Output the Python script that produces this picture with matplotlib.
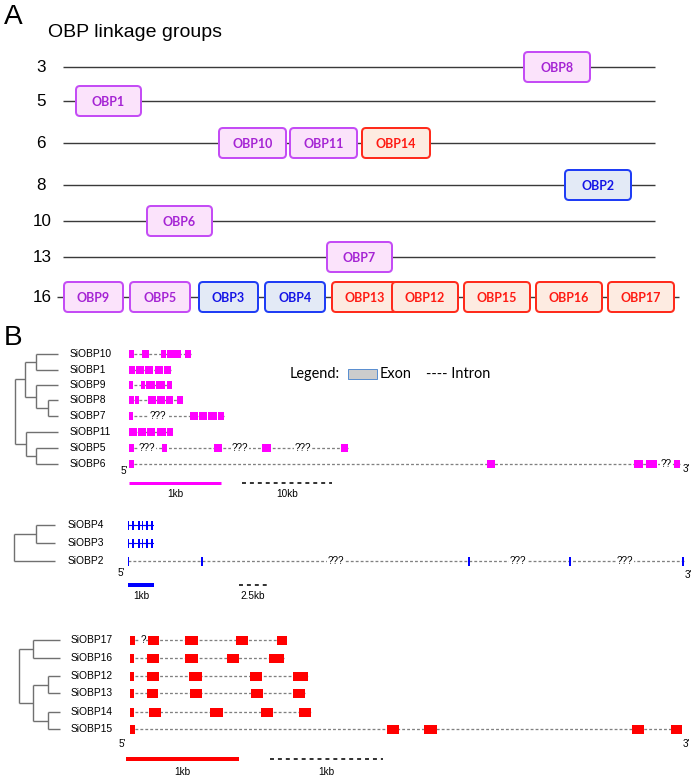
import matplotlib
matplotlib.use('Agg')
import matplotlib.pyplot as plt
from matplotlib.patches import FancyBboxPatch, Rectangle

# ---------------- DATA ----------------
# Panel A: linkage groups
lg_labels = ['3', '5', '6', '8', '10', '13', '16']
lg_rows_y = [67, 101, 143, 185, 221, 257, 297]
lg_line_start = [63, 63, 63, 63, 63, 63, 57]
lg_line_end = [655, 655, 655, 655, 655, 655, 679]

obp_names = ['OBP8', 'OBP1', 'OBP10', 'OBP11', 'OBP14', 'OBP2', 'OBP6', 'OBP7',
             'OBP9', 'OBP5', 'OBP3', 'OBP4', 'OBP13', 'OBP12', 'OBP15', 'OBP16', 'OBP17']
obp_lg = ['3', '5', '6', '6', '6', '8', '10', '13',
          '16', '16', '16', '16', '16', '16', '16', '16', '16']
obp_start = [524, 76, 219, 290, 362, 565, 147, 327, 64, 130, 199, 265, 332, 392, 464, 536, 608]
obp_end = [590, 141, 286, 357, 430, 631, 212, 392, 123, 190, 258, 325, 397, 458, 530, 602, 674]
obp_class = ['P', 'P', 'P', 'P', 'R', 'B', 'P', 'P', 'P', 'P', 'B', 'B', 'R', 'R', 'R', 'R', 'R']

# Panel B: gene structures (exon start/end positions along the drawn gene axis)
mag_genes = ['SiOBP10', 'SiOBP1', 'SiOBP9', 'SiOBP8', 'SiOBP7', 'SiOBP11', 'SiOBP5', 'SiOBP6']
mag_rows = [354, 370, 385, 400, 416, 432, 448, 464]
mag_exons = [
    [(129, 134), (142, 149), (161, 166), (167, 181), (185, 191)],
    [(129, 135), (136, 144), (145, 153), (155, 163), (164, 171)],
    [(129, 133), (141, 145), (146, 155), (156, 165), (167, 172)],
    [(129, 134), (135, 139), (148, 156), (157, 165), (166, 173), (177, 183)],
    [(129, 133), (190, 198), (199, 207), (208, 217), (218, 224)],
    [(129, 137), (138, 146), (147, 155), (157, 166), (167, 173)],
    [(129, 134), (162, 167), (214, 222), (262, 271), (341, 348)],
    [(129, 134), (487, 495), (634, 643), (646, 657), (674, 680)],
]
mag_unknown = [[], [], [], [], [(158, '???')], [], [(147, '???'), (240, '???'), (303, '???')], [(666, '??')]]
mag_tree = (15, [(25, [(36, [0, 1]), (36, [2, (48, [3, 4])])]), (26, [5, (36, [6, 7])])])

blue_genes = ['SiOBP4', 'SiOBP3', 'SiOBP2']
blue_rows = [525, 543, 561]
blue_exons = [
    [(127.5, 129), (132, 133.5), (137.5, 139.5), (141.5, 143), (145.5, 147.5), (150.5, 152.5)],
    [(127.5, 129), (132, 133.5), (137.5, 139.5), (141.5, 143), (145.5, 147.5), (150.5, 152.5)],
    [(127.5, 129), (201, 203), (468, 470), (569, 571), (682, 684)],
]
blue_unknown = [[], [], [(336, '???'), (518, '???'), (625, '???')]]
blue_tree = (14, [(36, [0, 1]), 2])

red_genes = ['SiOBP17', 'SiOBP16', 'SiOBP12', 'SiOBP13', 'SiOBP14', 'SiOBP15']
red_rows = [640, 658, 676, 693, 712, 729]
red_exons = [
    [(130, 135), (148, 159), (185, 198), (236, 248), (277, 287)],
    [(130, 134), (147, 159), (185, 198), (227, 239), (269, 284)],
    [(130, 134), (147, 159), (189, 202), (250, 262), (293, 308)],
    [(130, 134), (147, 158), (190, 202), (251, 263), (293, 305)],
    [(130, 134), (149, 161), (210, 223), (261, 273), (299, 311)],
    [(130, 135), (387, 399), (424, 437), (632, 644), (671, 682)],
]
red_unknown = [[(143, '?')], [], [], [], [], []]
red_tree = (19, [(33, [0, 1]), (33, [(48, [2, 3]), (48, [4, 5])])])

# scale bars: (start, end, label)
scale_solid = [(129, 221, '1kb'), (128, 154, '1kb'), (126, 239, '1kb')]
scale_dashed = [(242, 332, '10kb'), (239, 267, '2.5kb'), (270, 383, '1kb')]

# ---------------- STYLE ----------------
W, H = 697, 779
fig = plt.figure(figsize=(W / 100, H / 100), dpi=100)
ax = fig.add_axes([0, 0, 1, 1])
ax.set_xlim(0, W)
ax.set_ylim(H, 0)
ax.axis('off')

SANS = ['Liberation Sans', 'DejaVu Sans']
CAL = ['Lato', 'DejaVu Sans']
PX = 0.72  # points per pixel

box_styles = {
    'P': dict(ec='#c44cf5', fc='#fbe3fb', tc='#a524d4'),
    'B': dict(ec='#1f3df5', fc='#e3eaf6', tc='#1414e6'),
    'R': dict(ec='#ff2b1c', fc='#fdebe1', tc='#ff1a12'),
}

# ---------------- PANEL A ----------------
ax.text(4, 17, 'A', fontsize=28 * PX, family=SANS, va='center', ha='left')
ax.text(48, 32, 'OBP linkage groups', fontsize=19.5 * PX, family=SANS, va='center', ha='left')

lg_y = dict(zip(lg_labels, lg_rows_y))
for lab, y, x0, x1 in zip(lg_labels, lg_rows_y, lg_line_start, lg_line_end):
    ax.plot([x0, x1], [y, y], color='#3a3a3a', lw=1.4 * PX, solid_capstyle='butt', zorder=1)
    ax.text(36 if len(lab) == 1 else 33, y, lab, fontsize=17 * PX, family=SANS,
            va='center', ha='left', zorder=3)

BOX_H = 30
for name, lg, x0, x1, cl in zip(obp_names, obp_lg, obp_start, obp_end, obp_class):
    st = box_styles[cl]
    y = lg_y[lg]
    p = FancyBboxPatch((x0, y - BOX_H / 2), x1 - x0, BOX_H,
                       boxstyle='round,pad=0,rounding_size=4',
                       fc=st['fc'], ec=st['ec'], lw=2.0 * PX, zorder=2)
    ax.add_patch(p)
    ax.text((x0 + x1) / 2, y + 0.5, name, fontsize=12.5 * PX, family=CAL, weight='bold',
            color=st['tc'], ha='center', va='center', zorder=3)

# ---------------- PANEL B ----------------
ax.text(4, 338, 'B', fontsize=28 * PX, family=SANS, va='center', ha='left')

# legend
ax.text(290, 374, 'Legend:', fontsize=14.5 * PX, family=CAL, va='center', ha='left')
ax.add_patch(Rectangle((348, 369), 29, 10, fc='#cccccc', ec='#5b8fd0', lw=1.0 * PX))
ax.text(380, 374, 'Exon', fontsize=14.5 * PX, family=CAL, va='center', ha='left')
ax.text(426, 374, '---- Intron', fontsize=14.5 * PX, family=CAL, va='center', ha='left')


def draw_tree(node, rows, tip):
    """Return (x, y) of node; draw its branches."""
    if isinstance(node, int):
        return tip, rows[node]
    x, kids = node
    pts = [draw_tree(k, rows, tip) for k in kids]
    ys = [p[1] for p in pts]
    ax.plot([x, x], [min(ys), max(ys)], color='#707070', lw=1.4 * PX, solid_capstyle='butt')
    for cx, cy in pts:
        ax.plot([x, cx], [cy, cy], color='#707070', lw=1.4 * PX, solid_capstyle='butt')
    return x, (min(ys) + max(ys)) / 2


def draw_group(genes, rows, exons, unknown, tree, color, ex_h, tip, label_x):
    draw_tree(tree, rows, tip)
    for g, y, ex, unk in zip(genes, rows, exons, unknown):
        ax.text(label_x, y, g, fontsize=10.2 * PX, family=SANS, ha='left', va='center')
        ax.plot([ex[0][0], ex[-1][1]], [y, y], color='#808080', lw=1.3 * PX,
                linestyle=(0, (2.2, 1.6)), zorder=1)
        for (a, b) in ex:
            ax.add_patch(Rectangle((a, y - ex_h / 2), b - a, ex_h, fc=color, ec='none', zorder=2))
        for ux, s in unk:
            ax.text(ux, y, s, fontsize=10 * PX, family=SANS, ha='center', va='center',
                    zorder=3, bbox=dict(fc='white', ec='none', pad=0.3))


draw_group(mag_genes, mag_rows, mag_exons, mag_unknown, mag_tree, '#ff00ff', 8, 58, 70)
draw_group(blue_genes, blue_rows, blue_exons, blue_unknown, blue_tree, '#0000ff', 9, 55, 68)
draw_group(red_genes, red_rows, red_exons, red_unknown, red_tree, '#ff0000', 9, 60, 71)

# blue exon connectors (the "H" shape lines inside short genes)
for y, ex in zip(blue_rows[:2], blue_exons[:2]):
    ax.plot([ex[0][0], ex[-1][1]], [y, y], color='#0000ff', lw=1.0 * PX, zorder=1.5)

# 5' / 3' labels
for (x5, y5), (x3, y3) in [((124, 471), (686, 469)), ((121, 573), (688, 575)), ((122, 744), (686, 744))]:
    ax.text(x5, y5, "5'", fontsize=10 * PX, family=SANS, ha='center', va='center')
    ax.text(x3, y3, "3'", fontsize=10 * PX, family=SANS, ha='center', va='center')

# scale bars
bar_y = [483, 585, 759]
lab_y = [494, 596, 772]
bar_col = ['#ff00ff', '#0000ff', '#ff0000']
bar_lw = [3, 4, 4]
for (s, e, lab), (ds, de, dlab), by, ly, c, lw in zip(scale_solid, scale_dashed, bar_y, lab_y, bar_col, bar_lw):
    ax.plot([s, e], [by, by], color=c, lw=lw * PX, solid_capstyle='butt')
    ax.text((s + e) / 2, ly, lab, fontsize=10 * PX, family=SANS, ha='center', va='center')
    ax.plot([ds, de], [by, by], color='#202020', lw=1.8 * PX, linestyle=(0, (2.2, 2.2)))
    ax.text((ds + de) / 2, ly, dlab, fontsize=10 * PX, family=SANS, ha='center', va='center')

fig.savefig('out.png', dpi=100)
